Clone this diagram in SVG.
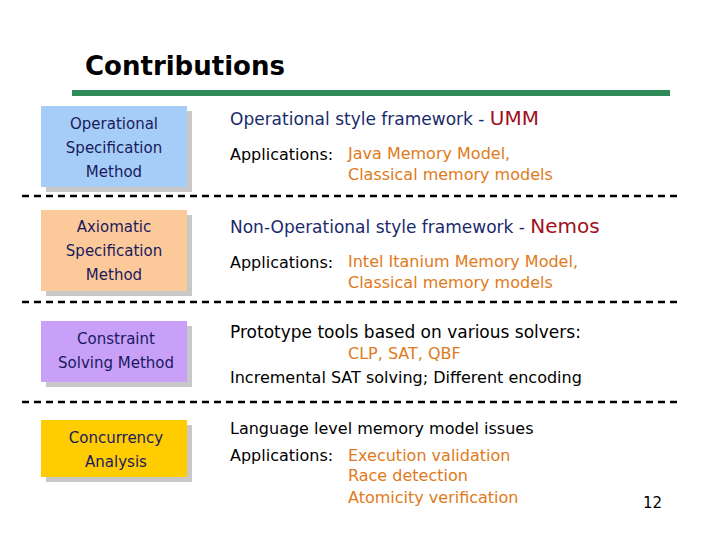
<svg xmlns="http://www.w3.org/2000/svg" width="720" height="540" viewBox="0 0 720 540">
<style>
text{font-family:"DejaVu Sans",sans-serif}
.bx{font-size:15px;fill:#1a1a5e;text-anchor:middle}
.h{font-size:17px;fill:#1a2a6c}
.k{font-size:16px;fill:#000}
.o{font-size:16px;fill:#e07a20}
.r{fill:#a01020;font-size:20px}
.sh{fill:#c8c8c8}
.dl{stroke:#000;stroke-width:2.5;stroke-dasharray:7,5;fill:none}
</style>
<rect width="720" height="540" fill="#fff"/>
<text x="85" y="75" fill="#000" style="font-size:26px;font-weight:bold">Contributions</text>
<rect x="72" y="90" width="598" height="6" fill="#2e8b57"/>
<g id="n1"><rect class="sh" x="46" y="111" width="146" height="81"/><rect x="41" y="106" width="146" height="81" fill="#a6cdf7"/>
<text class="bx" x="114" y="129">Operational</text><text class="bx" x="114" y="153">Specification</text><text class="bx" x="114" y="177">Method</text></g>
<g id="n2"><rect class="sh" x="46" y="215" width="146" height="81"/><rect x="41" y="210" width="146" height="81" fill="#fcca9a"/>
<text class="bx" x="114" y="232">Axiomatic</text><text class="bx" x="114" y="256">Specification</text><text class="bx" x="114" y="280">Method</text></g>
<g id="n3"><rect class="sh" x="46" y="326" width="146" height="61"/><rect x="41" y="321" width="146" height="61" fill="#c8a0f8"/>
<text class="bx" x="116" y="344">Constraint</text><text class="bx" x="116" y="368">Solving Method</text></g>
<g id="n4"><rect class="sh" x="46" y="425" width="146" height="57"/><rect x="41" y="420" width="146" height="57" fill="#ffcc00"/>
<text class="bx" x="116" y="443">Concurrency</text><text class="bx" x="116" y="467">Analysis</text></g>
<g id="connectors">
<line class="dl" x1="22" y1="196" x2="680" y2="196"/>
<line class="dl" x1="22" y1="302" x2="680" y2="302"/>
<line class="dl" x1="22" y1="402" x2="680" y2="402"/>
</g>
<text class="h" x="230" y="125">Operational style framework - <tspan class="r">UMM</tspan></text>
<text class="k" x="230" y="160">Applications:</text>
<text class="o" x="348" y="159">Java Memory Model,</text>
<text class="o" x="348" y="180">Classical memory models</text>
<text class="h" x="230" y="233">Non-Operational style framework - <tspan class="r">Nemos</tspan></text>
<text class="k" x="230" y="268">Applications:</text>
<text class="o" x="348" y="267">Intel Itanium Memory Model,</text>
<text class="o" x="348" y="288">Classical memory models</text>
<text class="k" x="230" y="338" style="font-size:17px">Prototype tools based on various solvers:</text>
<text class="o" x="348" y="359">CLP, SAT, QBF</text>
<text class="k" x="230" y="383">Incremental SAT solving; Different encoding</text>
<text class="k" x="230" y="434">Language level memory model issues</text>
<text class="k" x="230" y="461">Applications:</text>
<text class="o" x="348" y="461">Execution validation</text>
<text class="o" x="348" y="481">Race detection</text>
<text class="o" x="348" y="503">Atomicity verification</text>
<text x="643" y="508" font-size="15" fill="#000">12</text>
</svg>
